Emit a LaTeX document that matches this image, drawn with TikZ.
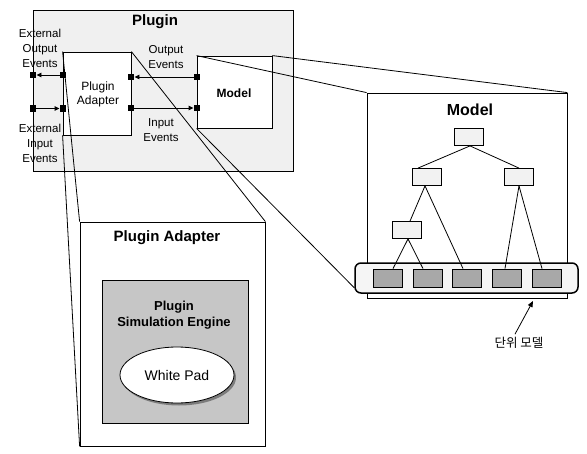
\documentclass[tikz,border=0pt]{standalone}
\usepackage{fontspec}
\setmainfont{Liberation Sans}
\newfontfamily\krfont{Noto Sans CJK KR}
\usetikzlibrary{arrows.meta,shadows,calc,shapes.geometric}

\tikzset{
  frame/.style={draw, line width=0.8pt, rectangle, inner sep=0pt, anchor=center},
  port/.style={fill=black, rectangle, minimum size=6.5pt, inner sep=0pt},
  evarrow/.style={line width=0.9pt, -{Triangle[length=5pt,width=4.5pt]}},
  zoomline/.style={line width=0.8pt},
  treebox/.style={frame, fill=gray!10, minimum width=29pt, minimum height=17pt},
  leafbox/.style={frame, fill=gray!68, minimum width=29pt, minimum height=18pt},
  treeedge/.style={line width=0.8pt},
  lbl/.style={align=center, inner sep=0pt, font=\fontsize{11.5}{15}\selectfont},
}

\begin{document}
\begin{tikzpicture}[x=1pt,y=-1pt]
\useasboundingbox (0,0) rectangle (587,453);

% ---------- Plugin ----------
\node[frame, fill=gray!12, minimum width=260pt, minimum height=161pt] (plugin) at (163,90.5) {};
\node[inner sep=0pt, font=\bfseries\fontsize{15}{18}\selectfont] (plugintitle) at (155,22) {Plugin};

\node[frame, fill=white, minimum width=68pt, minimum height=83pt] (adapter) at (97,93.5) {};
\node[lbl, font=\fontsize{12}{14}\selectfont] (adaptertext) at (98,94) {Plugin\\Adapter};

\node[frame, fill=white, minimum width=75pt, minimum height=72pt] (model) at (234.5,92) {};
\node[inner sep=0pt, font=\bfseries\fontsize{12}{14}\selectfont] (modeltext) at (234,93) {Model};

% event labels
\node[lbl] (extout) at (40,48) {External\\Output\\Events};
\node[lbl] (extin) at (40,143) {External\\Input\\Events};
\node[lbl] (outev) at (166,57) {Output\\Events};
\node[lbl] (inev) at (161,130) {Input\\Events};

% ---------- Plugin Adapter (detail) ----------
\node[frame, fill=white, minimum width=185pt, minimum height=224pt] (bigadapter) at (172.5,334) {};
\node[inner sep=0pt, font=\bfseries\fontsize{15}{18}\selectfont] (bigadaptertitle) at (167,238) {Plugin Adapter};
\node[frame, fill=gray!45, minimum width=146pt, minimum height=143pt] (engine) at (175,351.5) {};
\node[lbl, font=\bfseries\fontsize{13}{16}\selectfont] (enginetext) at (174,315) {Plugin\\Simulation Engine};
\node[draw, line width=0.8pt, ellipse, fill=white, minimum width=114pt, minimum height=56pt,
      drop shadow={shadow xshift=2pt, shadow yshift=-2.5pt, fill=black!80}] (whitepad) at (177,375)
      {\fontsize{14}{16}\selectfont White Pad};

% ---------- Model (detail) ----------
\node[frame, fill=white, minimum width=200pt, minimum height=205pt] (bigmodel) at (467,195.5) {};
\node[inner sep=0pt, font=\bfseries\fontsize{16}{18}\selectfont] (bigmodeltitle) at (470,110) {Model};

\node[draw, line width=1.5pt, rounded corners=6pt, fill=gray!8, minimum width=223pt, minimum height=30pt, inner sep=0pt] (unit) at (466.5,278) {};

\node[treebox] (root) at (469,137) {};
\node[treebox] (l2a) at (427,177) {};
\node[treebox] (l2b) at (519,177) {};
\node[treebox] (l3) at (407,230) {};

\node[leafbox] (leaf1) at (388,278) {};
\node[leafbox] (leaf2) at (428,278) {};
\node[leafbox] (leaf3) at (467,278) {};
\node[leafbox] (leaf4) at (507,278) {};
\node[leafbox] (leaf5) at (547,278) {};

\draw[treeedge] ($(root.south)+(1,0)$) -- ($(l2a.north)+(-9,0)$);
\draw[treeedge] ($(root.south)+(1,0)$) -- (l2b.north);
\draw[treeedge] ($(l2a.south)+(-2,0)$) -- ($(l3.north)+(3,0)$);
\draw[treeedge] ($(l2a.south)+(-2,0)$) -- ($(leaf3.north)+(-4,0)$);
\draw[treeedge] ($(l3.south)+(1,0)$) -- ($(leaf1.north)+(5,0)$);
\draw[treeedge] ($(l3.south)+(1,0)$) -- ($(leaf2.north)+(-5,0)$);
\draw[treeedge] (l2b.south) -- ($(leaf4.north)+(-2,0)$);
\draw[treeedge] (l2b.south) -- ($(leaf5.north)+(-5,0)$);

% label for the unit models
\node[inner sep=0pt, font=\krfont\fontsize{12.5}{14}\selectfont] (unitlabel) at (519,343) {단위 모델};
\coordinate (unittip) at (533,301);
\draw[line width=0.8pt, -{Triangle[length=6pt,width=5pt]}] ($(unitlabel.north)+(-4,-3)$) -- (unittip);

% ---------- lines to the detail views ----------
\draw[zoomline] (adapter.north west) -- (bigadapter.north west);
\draw[zoomline] (adapter.south west) -- (bigadapter.south west);
\draw[zoomline] (adapter.north east) -- (bigadapter.north east);
\draw[zoomline] (model.north west) -- (bigmodel.north west);
\draw[zoomline] (model.north east) -- (bigmodel.north east);
\draw[zoomline] (model.south west) -- ($(unit.south west)+(0,-6)$);

% ---------- ports and event connectors ----------
\node[port] (pextout) at (33,75) {};
\node[port] (pextin) at (33,108.5) {};
\node[port] (padout) at (63,75) {};
\node[port] (padin) at (63,108.5) {};
\node[port] (padrout) at (131,77) {};
\node[port] (padrin) at (131,108) {};
\node[port] (pmodout) at (197,77) {};
\node[port] (pmodin) at (197,108) {};

\draw[evarrow] (padout) -- (pextout);
\draw[evarrow] (pextin) -- (padin);
\draw[evarrow] (pmodout) -- (padrout);
\draw[evarrow] (padrin) -- (pmodin);
\end{tikzpicture}
\end{document}
